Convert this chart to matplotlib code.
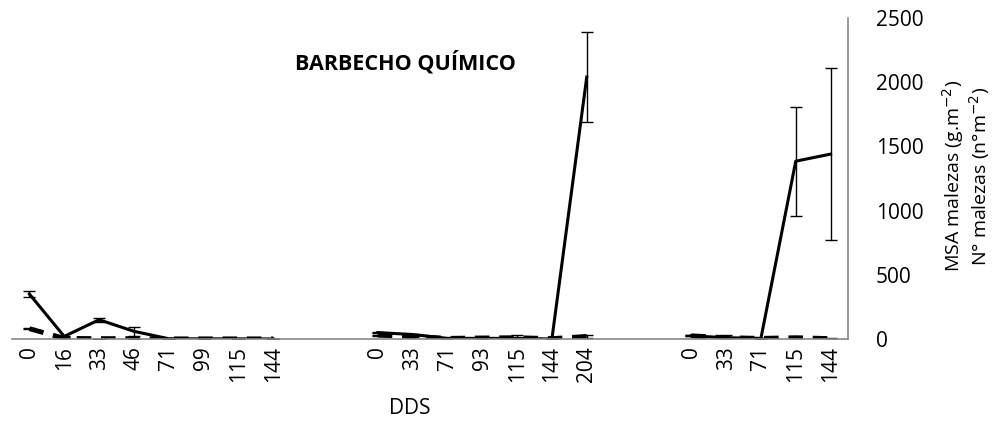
import numpy as np
import matplotlib
matplotlib.use("Agg")
import matplotlib.pyplot as plt

plt.rcParams["font.family"] = ["Open Sans", "DejaVu Sans"]

# DDS categories (blank slots separate the three periods)
dds_labels = ["0", "16", "33", "46", "71", "99", "115", "144", "", "",
              "0", "33", "71", "93", "115", "144", "204", "", "",
              "0", "33", "71", "115", "144"]

nan = np.nan
msa = [350, 20, 150, 60, 2, 1, 1, 0, nan, nan,
       50, 35, 5, 5, 5, 0, 2040, nan, nan,
       25, 10, 5, 1385, 1440]
msa_err = [20, 5, 15, 35, 0, 0, 0, 0, nan, nan,
           5, 5, 0, 0, 25, 0, 350, nan, nan,
           5, 20, 0, 425, 670]
n_mal = [80, 5, 3, 3, 1, 1, 1, 1, nan, nan,
         30, 20, 5, 8, 10, 3, 20, nan, nan,
         25, 10, 5, 10, 3]
n_err = [5, 0, 0, 0, 0, 0, 0, 0, nan, nan,
         5, 5, 0, 0, 0, 0, 10, nan, nan,
         5, 5, 5, 0, 8]

x = np.arange(len(dds_labels))

fig = plt.figure(figsize=(9.93, 4.28), dpi=100)
ax = fig.add_axes([12 / 993, 89 / 428, 836 / 993, 321 / 428])

ax.errorbar(x, msa, yerr=msa_err, color="black", linewidth=2.2,
            elinewidth=1, capsize=4, capthick=1)
ax.errorbar(x, n_mal, yerr=n_err, color="black", linewidth=3.5,
            linestyle=(0, (3, 2)), elinewidth=1, capsize=4, capthick=1)

ax.set_xlim(-0.5, len(dds_labels) - 0.5)
ax.set_ylim(0, 2500)
ax.set_xticks(x)
ax.set_xticklabels(dds_labels, rotation=90, fontsize=15)
ax.tick_params(axis="x", length=0, pad=5)
ax.yaxis.tick_right()
ax.set_yticks([0, 500, 1000, 1500, 2000, 2500])
ax.tick_params(axis="y", length=0, labelsize=15, pad=20)

for s in ["top", "left"]:
    ax.spines[s].set_visible(False)
for s in ["bottom", "right"]:
    ax.spines[s].set_color("#888888")
    ax.spines[s].set_linewidth(1.2)

# two-line y label on the right
fig.text(953 / 993, 1 - 176 / 428, "MSA malezas (g.m$^{-2}$)", rotation=90,
         fontsize=14, ha="center", va="center")
fig.text(980 / 993, 1 - 176 / 428, "N° malezas (n°m$^{-2}$)", rotation=90,
         fontsize=14, ha="center", va="center")

fig.text(410 / 993, 1 - 408 / 428, "DDS", fontsize=15, ha="center", va="center")

ax.text(10.8, 2155, "BARBECHO QUÍMICO", fontsize=15.5, fontweight="bold",
        ha="center", va="center")

fig.savefig("out.png", dpi=100)
